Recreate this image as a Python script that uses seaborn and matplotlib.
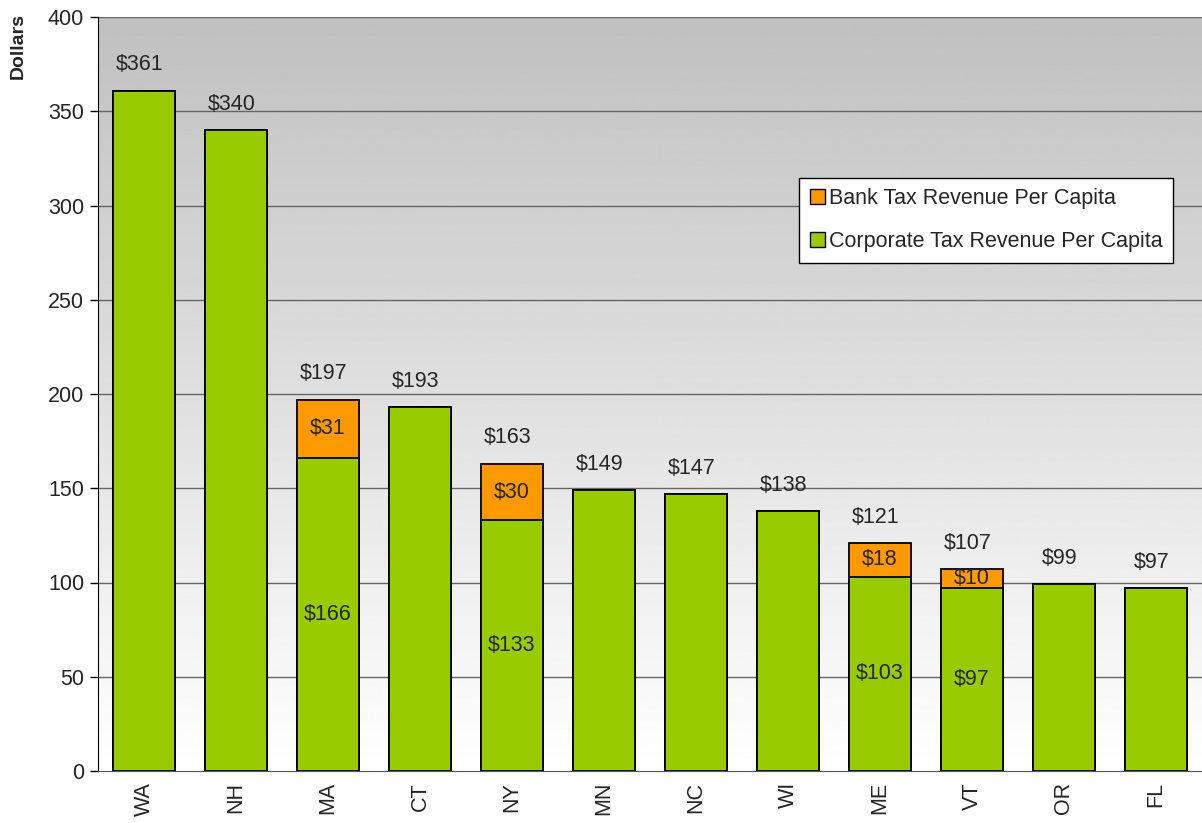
import numpy as np
import pandas as pd
import matplotlib
matplotlib.use("Agg")
import matplotlib.pyplot as plt
import seaborn as sns
from matplotlib.patches import Patch

states = ["WA", "NH", "MA", "CT", "NY", "MN", "NC", "WI", "ME", "VT", "OR", "FL"]
corporate = [361, 340, 166, 193, 133, 149, 147, 138, 103, 97, 99, 97]
bank = [0, 0, 31, 0, 30, 0, 0, 0, 18, 10, 0, 0]
totals = [c + b for c, b in zip(corporate, bank)]

df = pd.DataFrame({"state": states, "corporate": corporate, "bank": bank, "total": totals})

sns.set_style("white")
plt.rcParams["font.family"] = ["Liberation Sans", "DejaVu Sans"]

green = "#99cc00"
orange = "#ff9900"

fig = plt.figure(figsize=(12.02, 8.23), dpi=100)
ax = fig.add_axes([98 / 1202, 52 / 823, 1 - 98 / 1202, 754 / 823])

# gradient background, grey at top fading to white
grad = np.linspace(192, 255, 256).reshape(-1, 1) / 255.0
ax.imshow(grad, extent=[0, 1, 0, 1], transform=ax.transAxes, cmap="gray",
          vmin=0, vmax=1, aspect="auto", zorder=0)

for y in range(50, 401, 50):
    ax.axhline(y, color="#666666", lw=1, zorder=1)

# stacked look: totals in orange behind, corporate in green on top
sns.barplot(data=df, x="state", y="total", order=states, color=orange,
            saturation=1, width=0.67, edgecolor="black", linewidth=1.3,
            ax=ax, zorder=2)
sns.barplot(data=df, x="state", y="corporate", order=states, color=green,
            saturation=1, width=0.67, edgecolor="black", linewidth=1.3,
            ax=ax, zorder=3)

fs = 15.5
for i in range(len(states)):
    ax.annotate(f"${totals[i]}", (i, totals[i]), xytext=(-3, 11),
                textcoords="offset points", ha="center", va="bottom",
                fontsize=fs, zorder=5)
    if bank[i] > 0:
        ax.text(i, corporate[i] / 2, f"${corporate[i]}", ha="center",
                va="center", fontsize=fs, zorder=5)
        ax.text(i, corporate[i] + bank[i] / 2, f"${bank[i]}", ha="center",
                va="center", fontsize=fs, zorder=5)

ax.set_xlim(-0.5, len(states) - 0.5)
ax.set_ylim(0, 400)
ax.set_yticks(range(0, 401, 50))
ax.set_xlabel("")
ax.set_ylabel("")
ax.set_xticks(range(len(states)))
ax.set_xticklabels(states, rotation=90, fontsize=fs)
ax.set_xticks(np.arange(-0.5, len(states)), minor=True)
ax.tick_params(axis="x", which="major", length=0, pad=8)
ax.tick_params(axis="x", which="minor", length=6, width=1, color="#555555", direction="out")
ax.tick_params(axis="y", length=6, width=1, color="black", direction="out",
               labelsize=fs, left=True, pad=4)

for s in ["top", "right"]:
    ax.spines[s].set_visible(False)
ax.spines["left"].set_color("black")
ax.spines["bottom"].set_color("#555555")

fig.text(18 / 1202, 1 - 46 / 823, "Dollars", rotation=90, ha="center",
         va="center", fontsize=14, fontweight="bold")

handles = [Patch(facecolor=orange, edgecolor="black", label="Bank Tax Revenue Per Capita"),
           Patch(facecolor=green, edgecolor="black", label="Corporate Tax Revenue Per Capita")]
leg = ax.legend(handles=handles, loc="upper right", bbox_to_anchor=(0.974, 0.787),
                fontsize=fs, frameon=True, fancybox=False, framealpha=1,
                edgecolor="black", handlelength=0.7, handleheight=0.7,
                handletextpad=0.2, labelspacing=1.0, borderpad=0.5,
                borderaxespad=0)
leg.get_frame().set_linewidth(1)
leg.set_zorder(6)

fig.savefig("out.png", dpi=100)
